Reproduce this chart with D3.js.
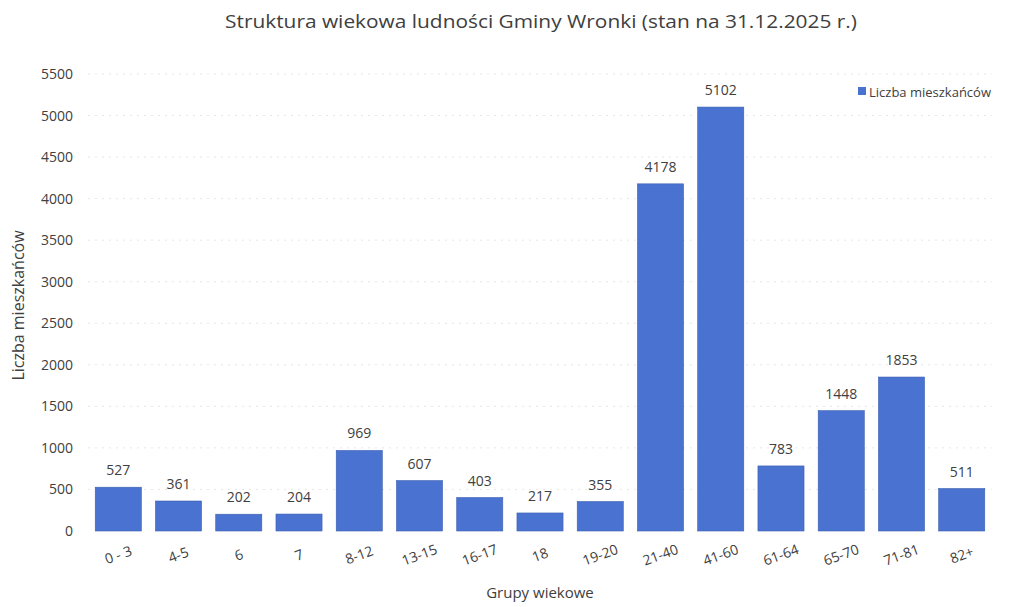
<!DOCTYPE html>
<html>
  <head>
    <meta charset="utf-8">
    <title>Struktura wiekowa</title>
    <script src="https://d3js.org/d3.v7.min.js"></script>
    <style>
      body { margin: 0; background-color: white; }
      text { font-family: 'Open Sans', 'DejaVu Sans', sans-serif; fill: #404040; }
    </style>
  </head>
  <body>
    <svg id="canvas" width="1020" height="607"></svg>
    <script>
      const groups = ['0 - 3', '4-5', '6', '7', '8-12', '13-15', '16-17', '18', '19-20',
                      '21-40', '41-60', '61-64', '65-70', '71-81', '82+']
      const residents = [527, 361, 202, 204, 969, 607, 403, 217, 355, 4178, 5102, 783, 1448, 1853, 511]
      const yTicks = [0, 500, 1000, 1500, 2000, 2500, 3000, 3500, 4000, 4500, 5000, 5500]

      const margin = { top: 74, right: 28, bottom: 76, left: 88 }
      const svg = d3.select('#canvas')
      const width = +svg.attr('width') - margin.left - margin.right
      const height = +svg.attr('height') - margin.top - margin.bottom
      const g = svg.append('g').attr('transform', `translate(${margin.left}, ${margin.top})`)

      const x = d3.scaleBand().domain(groups).range([0, width]).paddingInner(0.235).paddingOuter(0.12)
      const y = d3.scaleLinear().domain([0, 5500]).range([height, 0])

      // faint dotted grid
      g.append('g').selectAll('line').data(yTicks.slice(1)).enter()
        .append('line')
          .attr('x1', 0)
          .attr('x2', width)
          .attr('y1', d => y(d))
          .attr('y2', d => y(d))
          .attr('stroke', '#e6e6e6')
          .attr('stroke-width', 1)
          .attr('stroke-dasharray', '2,5')

      // y axis labels
      const yAxis = g.append('g')
        .call(d3.axisLeft(y).tickValues(yTicks).tickFormat(d3.format('d')).tickSize(0).tickPadding(15))
      yAxis.select('.domain').remove()
      yAxis.attr('font-size', null).attr('font-family', null)
      yAxis.selectAll('text').style('font-size', '14px').attr('fill', '#404040')

      // bars
      g.selectAll('rect.bar').data(residents).enter()
        .append('rect')
          .attr('class', 'bar')
          .attr('x', (d, i) => x(groups[i]))
          .attr('y', d => y(d))
          .attr('width', x.bandwidth())
          .attr('height', d => height - y(d))
          .attr('fill', '#4a73d1')
          .attr('stroke', '#3b5fb0')
          .attr('stroke-width', 0.6)

      // data labels
      g.selectAll('text.val').data(residents).enter()
        .append('text')
          .attr('class', 'val')
          .attr('x', (d, i) => x(groups[i]) + x.bandwidth() / 2)
          .attr('y', d => y(d) - 12)
          .attr('text-anchor', 'middle')
          .style('font-size', '14px')
          .text(d => d)

      // x labels, rotated
      g.selectAll('text.cat').data(groups).enter()
        .append('text')
          .attr('class', 'cat')
          .attr('transform', d => `translate(${x(d) + x.bandwidth() / 2}, ${height + 24}) rotate(-20)`)
          .attr('text-anchor', 'middle')
          .attr('dy', '0.35em')
          .style('font-size', '14px')
          .text(d => d)

      // axis titles
      svg.append('text')
        .attr('x', 540)
        .attr('y', 598)
        .attr('text-anchor', 'middle')
        .style('font-size', '15px')
        .text('Grupy wiekowe')

      svg.append('text')
        .attr('transform', `translate(24, ${margin.top + height / 2 + 3}) rotate(-90)`)
        .attr('text-anchor', 'middle')
        .style('font-size', '16px')
        .text('Liczba mieszkańców')

      // title
      svg.append('text')
        .attr('x', 541)
        .attr('y', 28)
        .attr('text-anchor', 'middle')
        .attr('textLength', 632)
        .attr('lengthAdjust', 'spacingAndGlyphs')
        .style('font-size', '18px')
        .attr('fill', '#3f3c4a')
        .text('Struktura wiekowa ludności  Gminy Wronki (stan na 31.12.2025 r.)')

      // legend
      const legend = svg.append('g').attr('transform', 'translate(858, 92)')
      legend.append('rect')
        .attr('x', 0).attr('y', -5).attr('width', 8).attr('height', 8)
        .attr('fill', '#4a73d1')
      legend.append('text')
        .attr('x', 11)
        .attr('y', 0)
        .attr('dy', '0.35em')
        .style('font-size', '13px')
        .text('Liczba mieszkańców')
    </script>
  </body>
</html>
